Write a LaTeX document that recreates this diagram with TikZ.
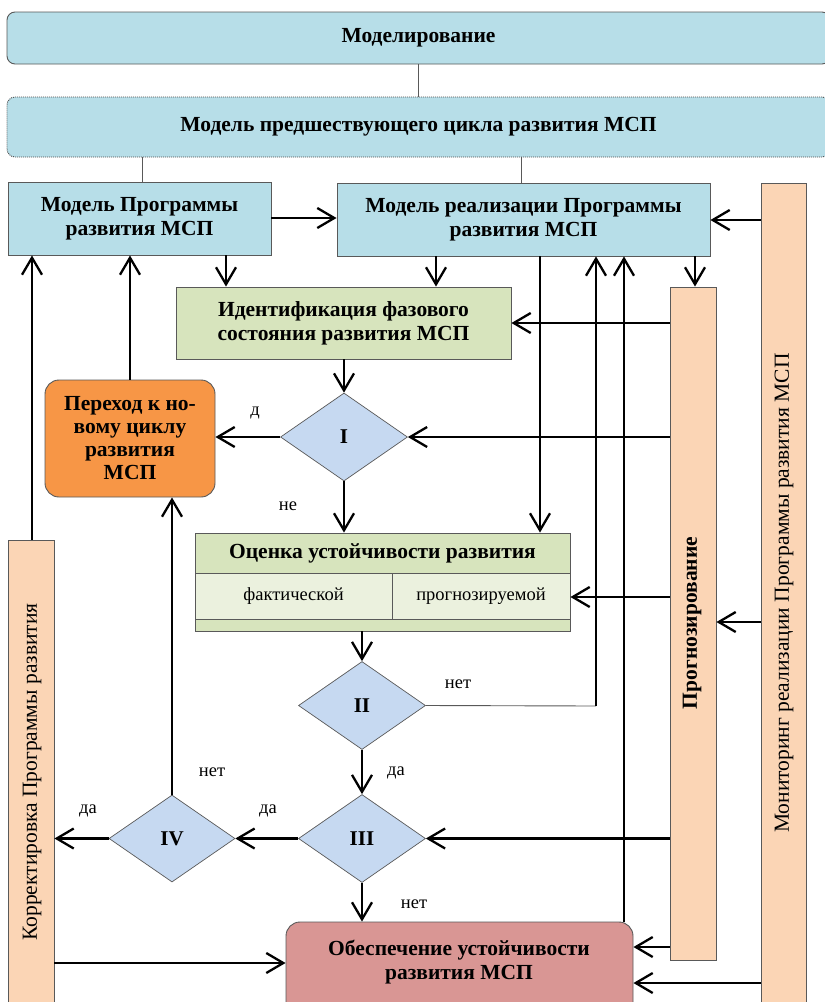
\documentclass[tikz,border=0pt]{standalone}
\usepackage{fontspec}
\setmainfont{Liberation Serif}
\usetikzlibrary{arrows.meta,shapes.geometric}
\definecolor{lblue}{HTML}{B7DEE8}
\definecolor{lgreen}{HTML}{D7E4BD}
\definecolor{vlgreen}{HTML}{EBF1DE}
\definecolor{orng}{HTML}{F79646}
\definecolor{rose}{HTML}{D99694}
\definecolor{peach}{HTML}{FBD5B5}
\definecolor{dblue}{HTML}{C6D9F1}
\definecolor{bgray}{HTML}{595959}
\tikzset{
  x=1pt,y=-1pt,
  box/.style={draw=bgray, line width=0.9pt, align=center, inner sep=0pt,
    font=\bfseries\fontsize{21.5}{24}\selectfont},
  plain/.style={draw=bgray, line width=0.9pt, align=center, inner sep=0pt,
    font=\fontsize{18.5}{21}\selectfont},
  dia/.style={diamond, draw=bgray, line width=0.7pt, fill=dblue, inner sep=0pt,
    minimum width=127pt, minimum height=88pt, aspect=1.44,
    font=\bfseries\fontsize{21}{23}\selectfont},
  arr/.style={line width=2.3pt, -{Straight Barb[length=17pt,width=20pt]}},
  thinln/.style={line width=0.9pt, draw=bgray},
  lbl/.style={font=\fontsize{18.5}{21}\selectfont, inner sep=0pt},
  vtext/.style={font=\fontsize{21.5}{24}\selectfont, rotate=90},
}
\begin{document}
\begin{tikzpicture}
\useasboundingbox (0,0) rectangle (825,1002);
% top boxes
\node[box, fill=lblue, rounded corners=8pt, minimum width=823pt, minimum height=52pt] (mod) at (418.5,38) {Моделирование};
\node[box, fill=lblue, draw=black!70, dash pattern=on 1pt off 1pt, rounded corners=8pt, minimum width=823pt, minimum height=60pt] (pred) at (418.5,127) {Модель предшествующего цикла развития МСП};
\node[box, fill=lblue, minimum width=263pt, minimum height=73pt] (mprog) at (139.5,218.5) {Модель Программы\\развития МСП};
\node[box, fill=lblue, minimum width=373pt, minimum height=73pt] (mreal) at (523.5,219.5) {Модель реализации Программы\\развития МСП};
% bars
\node[box, fill=peach, minimum width=45pt, minimum height=830pt] (mon) at (783.5,598) {};
\node[vtext] (montxt) at (784,593) {Мониторинг реализации Программы развития МСП};
\node[box, fill=peach, minimum width=46pt, minimum height=673pt] (fore) at (693,623.5) {};
\node[vtext, font=\bfseries\fontsize{21.5}{24}\selectfont] (foretxt) at (692,623) {Прогнозирование};
\node[box, fill=peach, minimum width=46pt, minimum height=475pt] (korr) at (31,777.5) {};
\node[vtext] (korrtxt) at (32,772) {Корректировка Программы развития};
% middle
\node[box, fill=lgreen, minimum width=335pt, minimum height=72pt] (ident) at (343.5,323) {Идентификация фазового\\состояния развития МСП};
\node[dia] (d1) at (344,437) {I};
\node[box, fill=orng, rounded corners=14pt, minimum width=170pt, minimum height=117pt, font=\bfseries\fontsize{21.5}{23}\selectfont] (perex) at (130,438.5) {Переход к но-\\вому циклу\\развития\\МСП};
% ocenka
\node[box, fill=lgreen, minimum width=375pt, minimum height=40pt] (ocen) at (382.5,553) {Оценка устойчивости развития};
\node[plain, fill=vlgreen, minimum width=197pt, minimum height=46pt] (fakt) at (293.5,596) {фактической};
\node[plain, fill=vlgreen, minimum width=178pt, minimum height=46pt] (prog) at (481,596) {прогнозируемой};
\node[box, fill=lgreen, minimum width=375pt, minimum height=12pt] (strip) at (382.5,625) {};
\node[dia] (d2) at (362,705.5) {II};
\node[dia] (d3) at (362,838.5) {III};
\node[dia, minimum width=126pt, minimum height=87pt] (d4) at (172,838.5) {IV};
\node[box, fill=rose, rounded corners=14pt, minimum width=347pt, minimum height=100pt] (obesp) at (459.5,972) {};
\node[font=\bfseries\fontsize{21.5}{24}\selectfont, align=center, inner sep=0pt] (obtxt) at (459,962) {Обеспечение устойчивости\\развития МСП};
% thin connectors on top
\draw[thinln] (mod.south -| 418,0) -- (pred.north -| 418,0);
\draw[thinln] (pred.south -| 142,0) -- (mprog.north -| 142,0);
\draw[thinln] (pred.south -| 521,0) -- (mreal.north -| 521,0);
% arrows
\draw[arr] (mprog.east |- 0,218) -- (mreal.west |- 0,218);
\draw[arr] (mon.west |- 0,220) -- (mreal.east |- 0,220);
\draw[arr] (mprog.south -| 226,0) -- (ident.north -| 226,0);
\draw[arr] (mreal.south -| 436,0) -- (ident.north -| 436,0);
\draw[arr] (mreal.south -| 695,0) -- (fore.north -| 695,0);
\draw[arr] (mreal.south -| 540,0) -- (ocen.north -| 540,0);
\draw[arr] (fore.west |- 0,323) -- (ident.east |- 0,323);
\draw[arr] (fore.west |- 0,437) -- (d1.east);
\draw[arr] (ident.south -| d1) -- (d1.north);
\draw[arr] (d1.west) -- (perex.east |- d1);
\node[lbl] (ld) at (255,413) {д};
\draw[arr] (perex.north) -- (mprog.south -| perex.north);
\draw[arr] (korr.north -| 32,0) -- (mprog.south -| 32,0);
\draw[arr] (d1.south) -- (ocen.north -| d1.south);
\node[lbl] (lne) at (288,506) {не};
\draw[arr] (fore.west |- 0,597) -- (prog.east |- 0,597);
\draw[arr] (strip.south -| d2) -- (d2.north);
\coordinate (c2) at (596,706);
\draw[thinln] (d2.east) -- (c2);
\draw[arr] (c2) -- (mreal.south -| c2);
\node[lbl] (lnet1) at (458,684) {нет};
\draw[arr] (obesp.north -| 624,0) -- (mreal.south -| 624,0);
\draw[arr] (d2.south) -- (d3.north);
\node[lbl] (lda1) at (396,773) {да};
\draw[arr] (fore.west |- d3) -- (d3.east);
\draw[arr] (d3.west) -- (d4.east);
\node[lbl] (lda2) at (268,811) {да};
\draw[arr] (d4.north) -- (perex.south -| d4.north);
\node[lbl] (lnet2) at (212,772) {нет};
\draw[arr] (d4.west) -- (korr.east |- d4);
\node[lbl] (lda3) at (88,811) {да};
\draw[arr] (d3.south) -- (obesp.north -| d3.south);
\node[lbl] (lnet3) at (414,904) {нет};
\draw[arr] (korr.east |- 0,963) -- (obesp.west |- 0,963);
\draw[arr] (fore.west |- 0,947) -- (obesp.east |- 0,947);
\draw[arr] (mon.west |- 0,983) -- (obesp.east |- 0,983);
\draw[arr] (mon.west |- 0,622) -- (fore.east |- 0,622);
\end{tikzpicture}
\end{document}
